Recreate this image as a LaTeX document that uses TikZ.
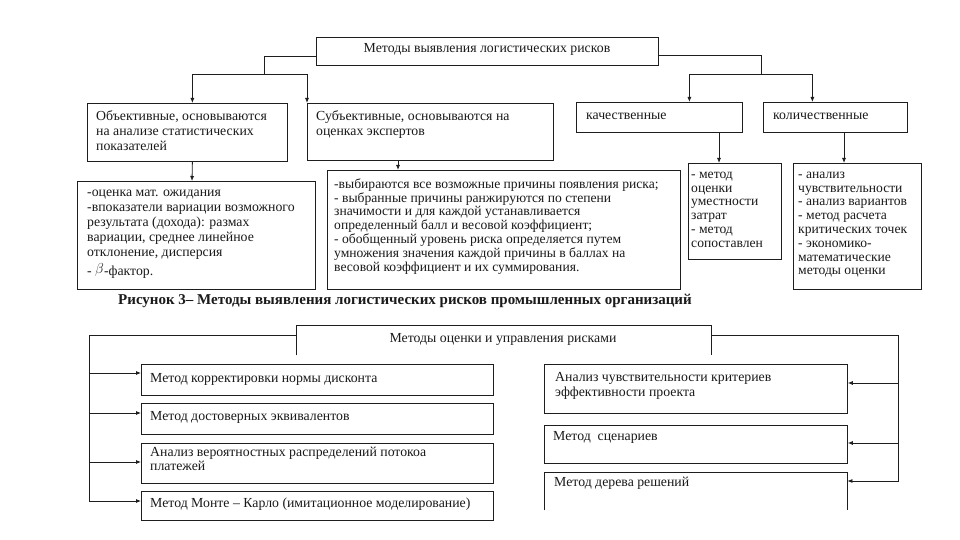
\documentclass[tikz,border=0pt]{standalone}
\usepackage{fontspec}
\setmainfont{Liberation Serif}
\usetikzlibrary{arrows.meta,calc}
\definecolor{ln}{HTML}{1E1E1E}
\definecolor{tx}{HTML}{1A1A1A}
\newcommand\myst{\rule{0pt}{11pt}}
\newcommand\mybox[5]{\node[box, minimum width={#4-#2}, minimum height={#5-#3}] (#1) at (#2,#3) {};}
\begin{document}
\begin{tikzpicture}[x=1pt,y=-1pt,
  box/.style={draw=ln, line width=0.8pt, inner sep=0pt, anchor=north west},
  openbox/.style={draw=none, inner sep=0pt, anchor=north west},
  txt/.style={anchor=north west, inner sep=0pt, align=left, text=tx, font=\fontsize{13.8}{15}\selectfont},
  txs/.style={anchor=north west, inner sep=0pt, align=left, text=tx, font=\fontsize{13.6}{13.8}\selectfont},
  ttl/.style={anchor=base, inner sep=0pt, text=tx, font=\fontsize{13.8}{15}\selectfont},
  lnk/.style={draw=ln, line width=0.8pt},
  arr/.style={draw=ln, line width=0.8pt, -{Latex[length=5pt,width=4pt]}}]
\useasboundingbox[fill=white] (0,0) rectangle (960,540);

% ---------- top diagram ----------
\mybox{T1}{316}{37}{658}{65}
\node[ttl] (T1t) at (487,53) {Методы выявления логистических рисков};

\mybox{Obj}{87}{103}{287}{161}
\node[txt] (Objt) at (96,109) {\myst Объективные, основываются\\на анализе статистических\\показателей};
\mybox{Sub}{307}{103}{553}{160}
\node[txt] (Subt) at (316,109) {\myst Субъективные, основываются на\\оценках экспертов};
\mybox{Kach}{576}{102}{742}{132}
\node[txt] (Kacht) at (586,108) {\myst качественные};
\mybox{Kol}{763}{102}{907}{132}
\node[txt] (Kolt) at (773,108) {\myst количественные};

\mybox{ObjD}{77}{181}{315}{289}
\node[txt] (ObjDt) at (87,185) {\myst -оценка мат. ожидания\\-впоказатели вариации возможного\\результата (дохода): размах\\вариации, среднее линейное\\отклонение, дисперсия\\[4pt]- \raisebox{1.5pt}{\Large$\beta$}-фактор.};
\mybox{SubD}{327}{170}{680}{289}
\node[txs] (SubDt) at (334,177) {\myst -выбираются все возможные причины появления риска;\\- выбранные причины ранжируются по степени\\значимости и для каждой устанавливается\\определенный балл и весовой коэффициент;\\- обобщенный уровень риска определяется путем\\умножения значения каждой причины в баллах на\\весовой коэффициент и их суммирования.};
\mybox{KachD}{688}{163}{781}{259}
\node[txs] (KachDt) at (691,167) {\myst - метод\\оценки\\уместности\\затрат\\- метод\\сопоставлен};
\mybox{KolD}{793}{163}{921}{289}
\node[txs] (KolDt) at (798,167) {\myst - анализ\\чувствительности\\- анализ вариантов\\- метод расчета\\критических точек\\- экономико-\\математические\\методы оценки};

\coordinate (jl) at (264,74);
\coordinate (jr) at (761,74);
\draw[lnk] ([yshift=-5pt]T1.west) -| (jl);
\draw[arr] (jl) -| ([xshift=5pt]Obj.north);
\draw[arr] (jl) -| (Sub.north west);
\draw[lnk] ([yshift=-4pt]T1.east) -| (jr);
\draw[arr] (jr) -| ([xshift=30pt]Kach.north);
\draw[arr] (jr) -| ([xshift=-23pt]Kol.north);
\draw[arr] ($(Obj.south)+(5,0)$) -- ($(ObjD.north west)+(115,0)$);
\draw[arr] ($(Sub.south west)+(91,0)$) -- ($(SubD.north west)+(71,0)$);
\draw[arr] ($(Kach.south west)+(143,0)$) -- ($(KachD.north west)+(31,0)$);
\draw[arr] ($(Kol.south west)+(81,0)$) -- ($(KolD.north west)+(51,0)$);

\node[anchor=base, inner sep=0pt, text=tx, font=\fontsize{15}{17}\selectfont\bfseries] (cap) at (405,304) {Рисунок 3– Методы выявления логистических рисков промышленных организаций};

% ---------- bottom diagram ----------
\node[openbox, minimum width=415, minimum height=30] (T2) at (296,325) {};
\draw[lnk] (T2.south west) -- (T2.north west) -- (T2.north east) -- (T2.south east);
\node[ttl] (T2t) at (503,342) {Методы оценки и управления рисками};

\mybox{L1}{141}{364}{493}{395}
\node[txt] (L1t) at (150,371) {\myst Метод корректировки нормы дисконта};
\mybox{L2}{141}{403}{493}{434}
\node[txt] (L2t) at (150,409) {\myst Метод достоверных эквивалентов};
\mybox{L3}{141}{443}{493}{483}
\node[txt, font=\fontsize{13.8}{14}\selectfont] (L3t) at (150,445) {\myst Анализ вероятностных распределений потокоа\\платежей};
\mybox{L4}{141}{491}{493}{520}
\node[txt] (L4t) at (150,496) {\myst Метод Монте – Карло (имитационное моделирование)};

\mybox{R1}{544}{364}{847}{413}
\node[txt] (R1t) at (555,370) {\myst Анализ чувствительности критериев\\эффективности проекта};
\mybox{R2}{544}{425}{847}{463}
\node[txt] (R2t) at (553,429) {\myst Метод\ \ сценариев};
\node[openbox, minimum width=303, minimum height=38] (R3) at (544,472) {};
\draw[lnk] (R3.south west) -- (R3.north west) -- (R3.north east) -- (R3.south east);
\node[txt] (R3t) at (554,475) {\myst Метод дерева решений};

\coordinate (bl) at (89,501);
\coordinate (br) at (898,481);
\draw[arr] ([yshift=5pt]T2.west) -| (bl) -- (bl -| L4.west);
\coordinate (a1) at ($(L1.north west)+(0,9)$);
\coordinate (a2) at ($(L2.north west)+(0,10)$);
\coordinate (a3) at ($(L3.north west)+(0,19)$);
\draw[arr] (bl |- a1) -- (a1);
\draw[arr] (bl |- a2) -- (a2);
\draw[arr] (bl |- a3) -- (a3);

\draw[arr] ([yshift=5pt]T2.east) -| (br) -- (br -| R3.east);
\coordinate (b1) at ($(R1.north east)+(0,19)$);
\coordinate (b2) at ($(R2.north east)+(0,18)$);
\draw[arr] (br |- b1) -- (b1);
\draw[arr] (br |- b2) -- (b2);
\end{tikzpicture}
\end{document}
